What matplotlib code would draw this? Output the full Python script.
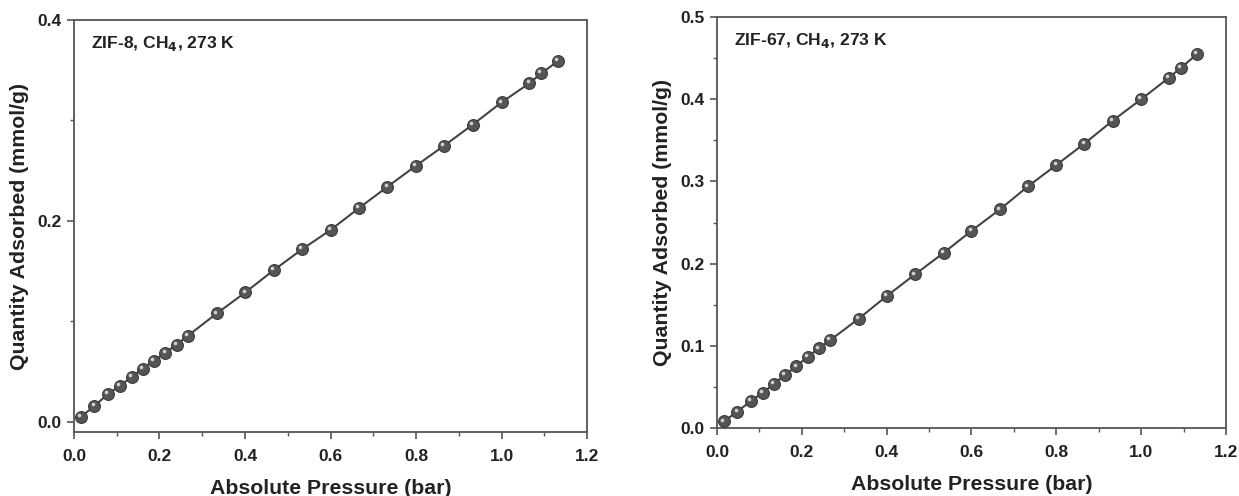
import matplotlib.pyplot as plt
from matplotlib.ticker import MultipleLocator
from matplotlib.transforms import ScaledTranslation

plt.rcParams['font.family'] = ['Liberation Sans', 'DejaVu Sans']
plt.rcParams['font.weight'] = 'bold'

# pressure points (bar), same for both samples
pressure = [0.016, 0.048, 0.080, 0.108, 0.135, 0.161, 0.187, 0.214, 0.240, 0.267,
            0.334, 0.401, 0.467, 0.534, 0.600, 0.667, 0.733, 0.800, 0.866, 0.933,
            1.000, 1.065, 1.093, 1.132]
# ZIF-8 uptake (mmol/g)
zif8 = [0.005, 0.016, 0.028, 0.036, 0.045, 0.053, 0.061, 0.069, 0.077, 0.086,
        0.108, 0.129, 0.151, 0.172, 0.191, 0.213, 0.234, 0.255, 0.275, 0.296,
        0.318, 0.337, 0.347, 0.359]
# ZIF-67 uptake (mmol/g)
zif67 = [0.008, 0.020, 0.033, 0.043, 0.054, 0.065, 0.075, 0.087, 0.097, 0.107,
         0.133, 0.161, 0.187, 0.213, 0.240, 0.266, 0.294, 0.320, 0.346, 0.374,
         0.400, 0.426, 0.438, 0.455]

labels = ['ZIF-8, CH$_4$, 273 K', 'ZIF-67, CH$_4$, 273 K']

fig = plt.figure(figsize=(12.39, 4.96), dpi=100)
ax1 = fig.add_axes([0.0597, 0.129, 0.4141, 0.8307])
ax2 = fig.add_axes([0.5787, 0.137, 0.4108, 0.8286])


def draw(ax, y, label, ylim, ymajor, yminor):
    ax.plot(pressure, y, color='#444444', lw=1.5, zorder=2)
    ax.plot(pressure, y, 'o', ms=8.5, mfc='#555555', mec='#3a3a3a', mew=0.8, zorder=3)
    # small highlight on each sphere
    shift = ScaledTranslation(-1.3 / 72, 1.3 / 72, fig.dpi_scale_trans)
    ax.plot(pressure, y, 'o', ms=2.6, mfc='#d0d0d0', mec='none', zorder=4,
            transform=ax.transData + shift)
    ax.set_xlim(0, 1.2)
    ax.set_ylim(*ylim)
    ax.xaxis.set_major_locator(MultipleLocator(0.2))
    ax.xaxis.set_minor_locator(MultipleLocator(0.1))
    ax.yaxis.set_major_locator(MultipleLocator(ymajor))
    ax.yaxis.set_minor_locator(MultipleLocator(yminor))
    ax.xaxis.set_major_formatter(plt.FormatStrFormatter('%.1f'))
    ax.yaxis.set_major_formatter(plt.FormatStrFormatter('%.1f'))
    for s in ax.spines.values():
        s.set_color('#555555')
        s.set_linewidth(1.3)
    ax.tick_params(which='major', direction='out', length=5, width=1.2, color='#555555',
                   labelsize=12.5, labelcolor='#222222')
    ax.tick_params(axis='x', which='major', pad=7)
    ax.tick_params(axis='y', which='major', pad=4)
    ax.tick_params(which='minor', direction='out', length=3, width=1.0, color='#555555')
    ax.set_xlabel('Absolute Pressure (bar)', fontsize=15.3, fontweight='bold', labelpad=11,
                  color='#222222')
    ax.set_ylabel('Quantity Adsorbed (mmol/g)', fontsize=15.3, fontweight='bold', labelpad=6,
                  color='#222222')
    ax.text(0.033, 0.943, label, transform=ax.transAxes, fontsize=12.6, fontweight='bold',
            va='center', ha='left', color='#222222')


draw(ax1, zif8, labels[0], (-0.01, 0.4), 0.2, 0.1)
draw(ax2, zif67, labels[1], (0.0, 0.5), 0.1, 0.05)

fig.savefig('out.png', dpi=100)
